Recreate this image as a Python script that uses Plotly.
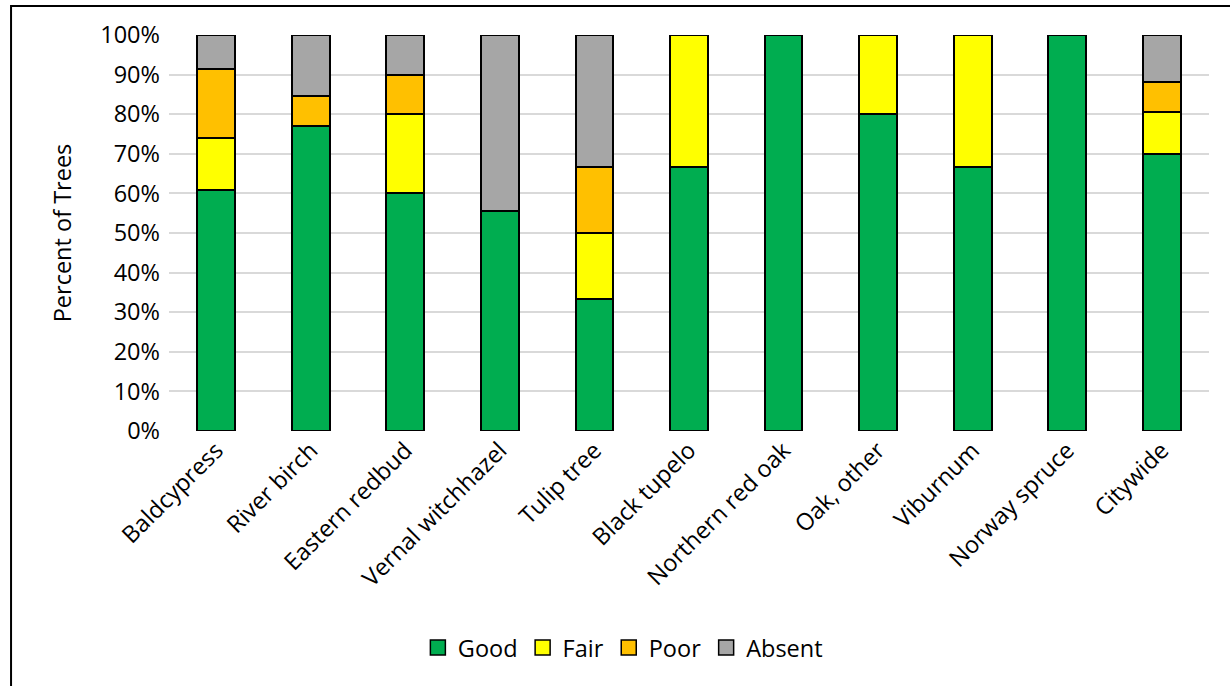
import plotly.graph_objects as go

species = ["Baldcypress", "River birch", "Eastern redbud", "Vernal witchhazel",
           "Tulip tree", "Black tupelo", "Northern red oak", "Oak, other",
           "Viburnum", "Norway spruce", "Citywide"]

good = [60.9, 76.9, 60.0, 55.6, 33.3, 66.7, 100.0, 80.0, 66.7, 100.0, 69.9]
fair = [13.0, 0.0, 20.0, 0.0, 16.7, 33.3, 0.0, 20.0, 33.3, 0.0, 10.6]
poor = [17.4, 7.7, 10.0, 0.0, 16.7, 0.0, 0.0, 0.0, 0.0, 0.0, 7.7]
absent = [8.7, 15.4, 10.0, 44.4, 33.3, 0.0, 0.0, 0.0, 0.0, 0.0, 11.8]

series = [("Good", good, "#00AD50"), ("Fair", fair, "#FFFF00"),
          ("Poor", poor, "#FFC000"), ("Absent", absent, "#A6A6A6")]

FONT = "'Open Sans', Calibri, Arial, sans-serif"
FS = 23.5

fig = go.Figure()
for name, vals, color in series:
    fig.add_trace(go.Bar(
        name=name, x=species, y=[v / 100 for v in vals],
        marker=dict(color=color, line=dict(color="black", width=2)),
        width=0.4, showlegend=False,
    ))
# legend entries: square swatches with a dark outline
for name, vals, color in series:
    fig.add_trace(go.Scatter(
        name=name, x=[None], y=[None], mode="markers",
        marker=dict(symbol="square", size=15, color=color,
                    line=dict(color="black", width=1.5)),
        showlegend=True,
    ))

# plot area geometry in pixels (used for the outer frame in paper units)
L, R, T, B = 169, 1230 - 1209.3, 34.5, 686 - 431
pw = 1230 - L - R
ph = 686 - T - B

def px_to_paper_x(px):
    return (px - L) / pw

def px_to_paper_y(py):
    return (686 - B - py) / ph

fig.add_shape(type="rect", xref="paper", yref="paper",
              x0=px_to_paper_x(11), x1=px_to_paper_x(1236),
              y0=px_to_paper_y(700), y1=px_to_paper_y(5.5),
              line=dict(color="black", width=2), fillcolor="rgba(0,0,0,0)",
              layer="below")

fig.update_layout(
    barmode="stack",
    width=1230, height=686,
    margin=dict(l=L, r=R, t=T, b=B, pad=0),
    paper_bgcolor="white", plot_bgcolor="white",
    font=dict(family=FONT, size=FS, color="black"),
    xaxis=dict(tickangle=-45, showgrid=False, showline=False, ticks="",
               tickfont=dict(size=FS, family=FONT)),
    yaxis=dict(range=[0, 1], tickformat=".0%", dtick=0.1,
               showgrid=True, gridcolor="#D9D9D9", gridwidth=2,
               zeroline=False, showline=False, ticks="", ticklabelstandoff=8,
               title=dict(text="Percent of Trees", font=dict(size=FS, family=FONT), standoff=22),
               tickfont=dict(size=FS, family=FONT)),
    legend=dict(orientation="h", x=px_to_paper_x(623), xanchor="center",
                y=px_to_paper_y(648), yanchor="middle",
                font=dict(size=FS, family=FONT), itemwidth=30,
                traceorder="normal"),
    bargap=0.6,
)

fig.write_html("out.html")
